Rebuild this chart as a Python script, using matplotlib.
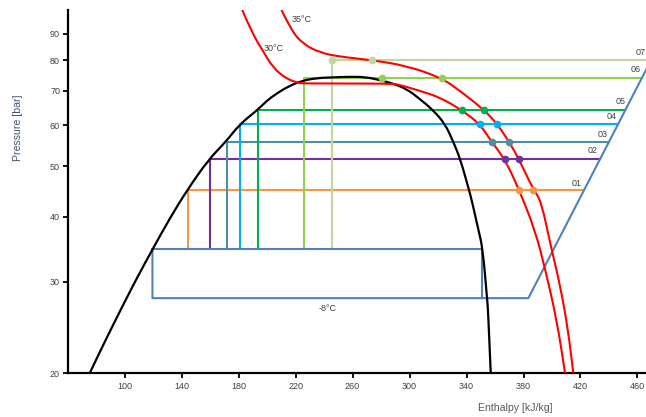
import matplotlib
matplotlib.use("Agg")
import matplotlib.pyplot as plt
from matplotlib.path import Path
from matplotlib.patches import PathPatch
from matplotlib.ticker import FixedLocator, NullLocator, FixedFormatter

plt.rcParams['font.family'] = ['Liberation Sans', 'DejaVu Sans']

# saturation dome (enthalpy kJ/kg, pressure bar)
dome_h = [75.4, 82.1, 90.0, 100.6, 109.0, 119.7, 131.6, 144.0, 159.0, 170.8,
          180.8, 193.2, 199.8, 206.1, 214.5, 224.4, 235.6, 246.2, 258.1, 269.3,
          279.2, 288.3, 297.9, 307.3, 316.4, 324.9, 330.8, 335.7, 341.7, 343.7,
          348.4, 351.4, 354.4, 355.1, 357.0]
dome_p = [20.0, 21.85, 24.2, 27.65, 30.65, 34.7, 39.7, 45.1, 51.6, 55.7,
          60.3, 64.2, 66.9, 68.9, 71.2, 73.1, 74.0, 74.2, 74.4, 74.3,
          73.3, 72.2, 70.5, 67.4, 64.2, 60.4, 55.7, 51.6, 45.1, 43.0,
          37.7, 34.7, 27.9, 26.5, 20.0]

# isotherms
t30_h = [182.5, 189.9, 197.0, 204.0, 213.6, 222.0, 225.1, 286.2, 292.0, 307.3,
         321.3, 336.6, 349.5, 357.7, 367.0, 376.9, 388.1, 395.1, 403.4, 409.2]
t30_p = [100.0, 89.8, 83.5, 77.5, 73.7, 72.4, 72.2, 72.2, 71.9, 69.9,
         67.9, 64.2, 60.3, 55.7, 51.6, 45.1, 37.7, 31.85, 25.3, 20.0]
t35_h = [210.1, 217.1, 225.3, 237.0, 251.1, 273.6, 298.0, 322.5, 335.4, 352.5,
         361.6, 370.0, 376.9, 386.9, 392.3, 399.3, 406.0, 411.3, 415.0]
t35_p = [100.0, 91.2, 86.0, 82.8, 81.3, 80.1, 78.1, 74.0, 69.9, 64.2,
         60.3, 55.7, 51.6, 45.1, 43.0, 35.0, 29.3, 24.2, 20.0]

# gas cooler pressure levels
levels = ['01', '02', '03', '04', '05', '06', '07']
level_p = [45.1, 51.6, 55.7, 60.3, 64.2, 74.0, 80.1]
level_h_in = [144.5, 159.7, 171.5, 180.8, 193.7, 225.8, 245.5]
level_h_out = [422.0, 433.8, 440.3, 445.9, 451.3, 463.1, 470.0]
level_dots = [[376.9, 386.9], [367.0, 376.9], [357.7, 370.0], [349.5, 361.6],
              [336.6, 352.5], [280.4, 322.5], [245.5, 273.6]]
level_colors = ['#F79646', '#7030A0', '#4A90A4', '#00B0F0', '#00B050', '#92D050', '#C3D79B']
label_h = [417.4, 428.6, 435.7, 442.0, 448.3, 458.6, 465.6]
label_p = [46.4, 53.6, 57.7, 62.3, 66.8, 76.7, 82.8]

# evaporator / compressor suction
evap_p = 27.9
box_top_p = 34.7
box_h_left = 119.5
box_h_inner = 350.6
box_h_outer = 383.4
diag_h_end = 470.0
diag_p_end = 80.5


def smooth_curve(ax, hs, ps, **kw):
    # quadratic bezier through the midpoints, read points act as control points
    verts = [(hs[0], ps[0])]
    codes = [Path.MOVETO]
    for i in range(1, len(hs) - 1):
        mid_h = (hs[i] + hs[i + 1]) / 2
        mid_p = (ps[i] * ps[i + 1]) ** 0.5
        verts += [(hs[i], ps[i]), (mid_h, mid_p)]
        codes += [Path.CURVE3, Path.CURVE3]
    verts.append((hs[-1], ps[-1]))
    codes.append(Path.LINETO)
    ax.add_patch(PathPatch(Path(verts, codes), fill=False, **kw))


fig = plt.figure(figsize=(6.46, 4.17), dpi=100)
ax = fig.add_axes([67.7 / 646, 43.7 / 417, (646 - 67.7) / 646, 363.3 / 417])

lw = 1.5
for i in range(len(levels)):
    c = level_colors[i]
    ax.plot([level_h_in[i], level_h_in[i], level_h_out[i]],
            [box_top_p, level_p[i], level_p[i]], color=c, lw=lw, zorder=2)
    ax.plot(level_dots[i], [level_p[i]] * 2, 'o', color=c, ms=4.5, zorder=5)
    ha = 'center' if i < 6 else 'right'
    ax.text(label_h[i], label_p[i], levels[i], fontsize=6.5,
            color='#404040', ha=ha, va='center')

blue = '#4F81BD'
ax.plot([box_h_left, box_h_inner, box_h_inner], [box_top_p, box_top_p, evap_p],
        color=blue, lw=lw, zorder=3)
ax.plot([box_h_left, box_h_left, box_h_outer, diag_h_end],
        [box_top_p, evap_p, evap_p, diag_p_end], color=blue, lw=lw, zorder=3)

smooth_curve(ax, dome_h, dome_p, edgecolor='black', lw=1.6, zorder=4)
smooth_curve(ax, t30_h, t30_p, edgecolor='#FF0000', lw=1.5, zorder=4)
smooth_curve(ax, t35_h, t35_p, edgecolor='#FF0000', lw=1.5, zorder=4)

ax.text(224.2, 95.7, '35°C', fontsize=6.5, color='#404040', ha='center', va='center')
ax.text(204.7, 84.3, '30°C', fontsize=6.5, color='#404040', ha='center', va='center')
ax.text(242.4, 26.7, '-8°C', fontsize=6.5, color='#404040', ha='center', va='center')

ax.set_yscale('log')
ax.set_xlim(60, 466)
ax.set_ylim(20, 100)
yt = [20, 30, 40, 50, 60, 70, 80, 90]
ax.yaxis.set_major_locator(FixedLocator(yt))
ax.yaxis.set_major_formatter(FixedFormatter([str(v) for v in yt]))
ax.yaxis.set_minor_locator(NullLocator())
ax.set_xticks(list(range(100, 461, 40)))

for s in ['top', 'right']:
    ax.spines[s].set_visible(False)
for s in ['left', 'bottom']:
    ax.spines[s].set_linewidth(1.6)
ax.tick_params(axis='both', which='major', length=3.5, width=1.3,
               labelsize=6.5, labelcolor='#404040', pad=2)
ax.tick_params(axis='x', pad=3)

fig.text(18.3 / 646, 1 - 128 / 417, 'Pressure [bar]', rotation=90, fontsize=7.6,
         color='#44546A', ha='center', va='center')
fig.text(515 / 646, 1 - 408.3 / 417, 'Enthalpy [kJ/kg]', fontsize=7.6,
         color='#595959', ha='center', va='center')

fig.savefig('out.png', dpi=100)
